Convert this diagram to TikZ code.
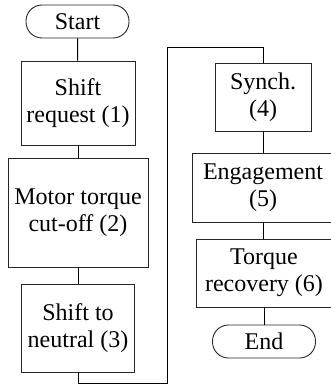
\documentclass[tikz,border=0pt]{standalone}
\usepackage{fontspec}
\setmainfont{Liberation Serif}
\begin{document}
\begin{tikzpicture}[x=1pt,y=-1pt,
  font=\fontsize{24}{27}\selectfont,
  stepbox/.style={draw=black!85, line width=0.9pt, inner sep=0pt, align=center},
  terminal/.style={stepbox, rounded corners=16pt, minimum width=103pt, minimum height=33pt},
  link/.style={draw=black, line width=1pt}]
\useasboundingbox (0,0) rectangle (331,385);

% left column
\node[terminal] (start) at (77.5,21.5) {Start};
\node[stepbox, minimum width=114pt, minimum height=84pt] (b1) at (78,103) {Shift\\request (1)};
\node[stepbox, minimum width=140pt, minimum height=109pt] (b2) at (78,212.5) {Motor torque\\cut-off (2)};
\node[stepbox, minimum width=113pt, minimum height=88pt] (b3) at (78,328) {Shift to\\neutral (3)};

% right column
\node[stepbox, minimum width=96pt, minimum height=68pt] (b4) at (263,97) {Synch.\\(4)};
\node[stepbox, minimum width=142pt, minimum height=69pt] (b5) at (263,187.5) {Engagement\\(5)};
\node[stepbox, minimum width=136pt, minimum height=68pt] (b6) at (264,273) {Torque\\recovery (6)};
\node[terminal] (end) at (264,341.5) {End};

% bend points of the long return connector
\coordinate (p1) at (167,383);
\coordinate (p2) at (167,48);

\draw[link] (start) -- (b1);
\draw[link] (b1) -- (b2);
\draw[link] (b2) -- (b3);
\draw[link] (b3.south) |- (p1) -- (p2) -| (b4.north);
\draw[link] (b4) -- (b5);
\draw[link] (b5.south -| b4.south) -- (b6.north -| b4.south);
\draw[link] (b6.south -| end.north) -- (end.north);
\end{tikzpicture}
\end{document}
